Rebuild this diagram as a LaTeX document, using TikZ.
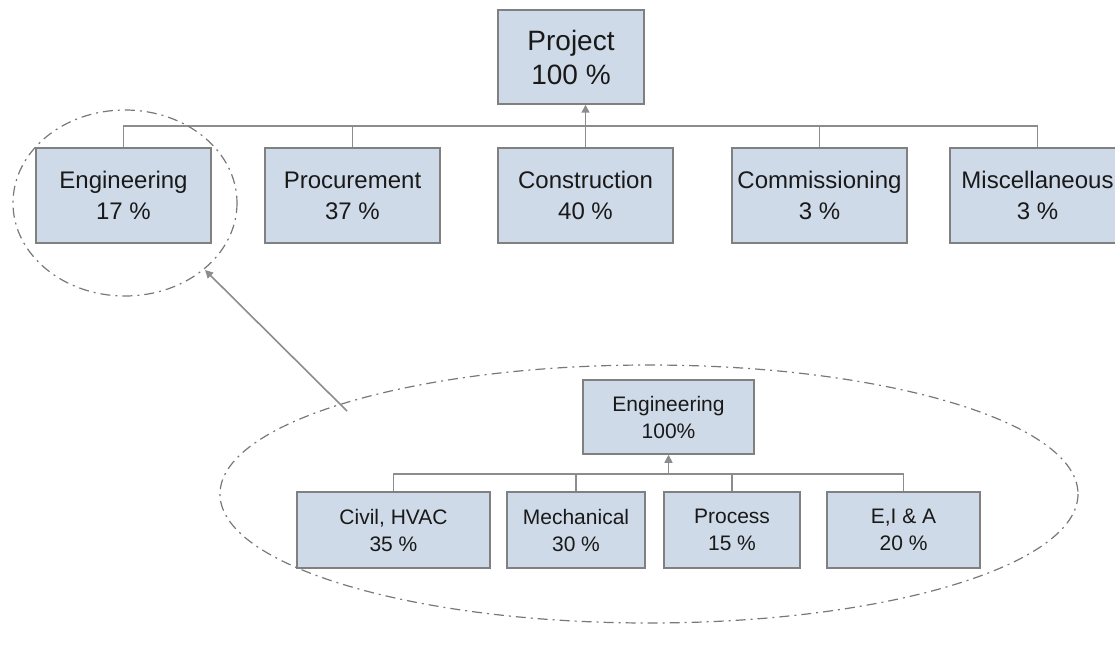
\documentclass[tikz,border=0pt]{standalone}
\usepackage{fontspec}
\setmainfont{Liberation Sans}
\usetikzlibrary{arrows.meta}
\definecolor{boxfill}{RGB}{207,218,232}
\definecolor{boxline}{RGB}{128,128,128}
\definecolor{conncol}{RGB}{140,140,140}
\definecolor{dashcol}{RGB}{120,120,120}
\tikzset{
  box/.style={draw=boxline, line width=1.5pt, fill=boxfill, align=center, inner sep=0pt, text=black!90},
  topbox/.style={box, minimum width=175pt, minimum height=95pt, font=\fontsize{24}{31}\selectfont},
  subbox/.style={box, minimum height=76pt, font=\fontsize{21}{27}\selectfont},
  conn/.style={draw=conncol, line width=1.6pt},
  arr/.style={conn, -{Triangle[width=8pt,length=8pt]}},
  zone/.style={draw=dashcol, line width=1.2pt, dash pattern=on 10pt off 5pt on 2pt off 5pt}
}
\begin{document}
\begin{tikzpicture}[x=1pt,y=-1pt]
\useasboundingbox (0,0) rectangle (1115,652);
% top level
\node[box, minimum width=146pt, minimum height=94pt, font=\fontsize{28}{34}\selectfont] (proj) at (571,57) {Project\\100 \%};
\node[topbox] (eng) at (123.5,195.5) {Engineering\\17 \%};
\node[topbox] (proc) at (352.5,195.5) {Procurement\\37 \%};
\node[topbox] (cons) at (585.5,195.5) {Construction\\40 \%};
\node[topbox] (comm) at (819.5,195.5) {Commissioning\\3 \%};
\node[topbox] (misc) at (1037.5,195.5) {Miscellaneous\\3 \%};
\coordinate (bus) at (0,126);
\draw[conn] (eng.north) -- (eng.north |- bus) -- (misc.north |- bus) -- (misc.north);
\draw[conn] (proc.north) -- (proc.north |- bus);
\draw[conn] (comm.north) -- (comm.north |- bus);
\draw[arr] (cons.north) -- (cons.north |- proj.south);
% engineering breakdown
\node[box, minimum width=171pt, minimum height=74pt, font=\fontsize{21}{27}\selectfont] (eng2) at (668.5,417) {Engineering\\100\%};
\node[subbox, minimum width=193pt] (civ) at (393.5,530) {Civil, HVAC\\35 \%};
\node[subbox, minimum width=138pt] (mech) at (576,530) {Mechanical\\30 \%};
\node[subbox, minimum width=136pt] (procs) at (732,530) {Process\\15 \%};
\node[subbox, minimum width=153pt] (eia) at (903.5,530) {E,I \& A\\20 \%};
\coordinate (bus2) at (0,474);
\draw[conn] (civ.north) -- (civ.north |- bus2) -- (eia.north |- bus2) -- (eia.north);
\draw[conn] (mech.north) -- (mech.north |- bus2);
\draw[conn] (procs.north) -- (procs.north |- bus2);
\draw[arr] (eng2.south |- bus2) -- (eng2.south);
% dashed zones
\draw[zone] (125,203) ellipse [x radius=112, y radius=93];
\draw[zone] (649,494) ellipse [x radius=429, y radius=129];
\coordinate (zfrom) at (347,411);
\coordinate (zto) at (205,270);
\draw[arr] (zfrom) -- (zto);
\end{tikzpicture}
\end{document}
